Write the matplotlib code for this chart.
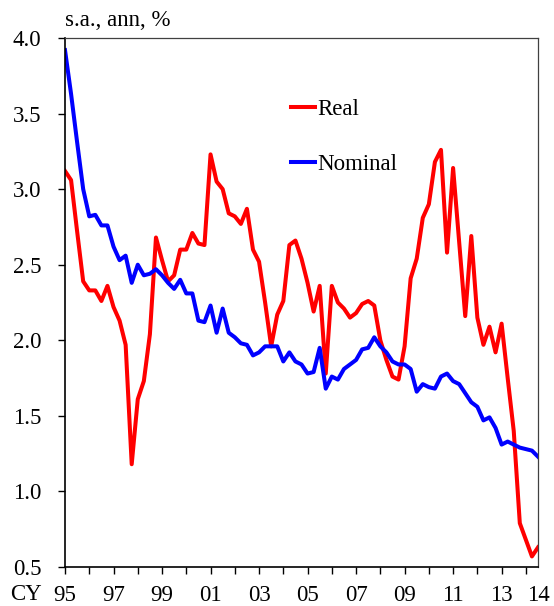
import numpy as np
import matplotlib
matplotlib.use("Agg")
import matplotlib.pyplot as plt

plt.rcParams['font.family'] = ['Liberation Serif', 'DejaVu Serif']

# quarterly, 1995Q1 .. 2014Q3
real = [3.12, 3.06, 2.72, 2.39, 2.33, 2.33, 2.26, 2.36, 2.22, 2.13,
        1.97, 1.18, 1.61, 1.73, 2.04, 2.68, 2.53, 2.39, 2.43, 2.60,
        2.60, 2.71, 2.64, 2.63, 3.23, 3.05, 3.00, 2.84, 2.82, 2.77,
        2.87, 2.60, 2.52, 2.25, 1.96, 2.17, 2.26, 2.63, 2.66, 2.54,
        2.38, 2.19, 2.36, 1.78, 2.36, 2.25, 2.21, 2.15, 2.18, 2.24,
        2.26, 2.23, 2.00, 1.87, 1.76, 1.74, 1.96, 2.41, 2.54, 2.81,
        2.90, 3.18, 3.26, 2.58, 3.14, 2.65, 2.16, 2.69, 2.15, 1.97,
        2.09, 1.92, 2.11, 1.75, 1.40, 0.79, 0.68, 0.57, 0.63]
nominal = [3.92, 3.63, 3.31, 3.00, 2.82, 2.83, 2.76, 2.76, 2.62, 2.53,
           2.56, 2.38, 2.50, 2.43, 2.44, 2.47, 2.43, 2.38, 2.34, 2.40,
           2.31, 2.31, 2.13, 2.12, 2.23, 2.05, 2.21, 2.05, 2.02, 1.98,
           1.97, 1.90, 1.92, 1.96, 1.96, 1.96, 1.86, 1.92, 1.86, 1.84,
           1.78, 1.79, 1.95, 1.68, 1.76, 1.74, 1.81, 1.84, 1.87, 1.94,
           1.95, 2.02, 1.96, 1.92, 1.86, 1.84, 1.84, 1.81, 1.66, 1.71,
           1.69, 1.68, 1.76, 1.78, 1.73, 1.71, 1.65, 1.59, 1.56, 1.47,
           1.49, 1.42, 1.31, 1.33, 1.31, 1.29, 1.28, 1.27, 1.23]
year_labels = ['95', '', '97', '', '99', '', '01', '', '03', '', '05', '',
               '07', '', '09', '', '11', '', '13', '']
last_label = '14'

q = np.arange(len(real))
fs = 16.5

fig = plt.figure(figsize=(5.54, 6.06), dpi=100)
ax = fig.add_axes([65/554, 1-567/606, 473/554, 529/606])

ax.plot(q, real, color='#ff0000', lw=2.9, label='Real')
ax.plot(q, nominal, color='#0000ff', lw=2.9, label='Nominal')

ax.set_xlim(0, len(real) - 1)
ax.set_ylim(0.5, 4.0)
ax.set_yticks(np.arange(0.5, 4.01, 0.5))
ax.set_yticklabels(['%.1f' % v for v in np.arange(0.5, 4.01, 0.5)])
ax.set_xticks(np.arange(0, 4 * len(year_labels), 4))
ax.set_xticklabels(year_labels)
ax.set_xticks([len(real) - 1], minor=True)
ax.set_xticklabels([last_label], minor=True)

ax.tick_params(axis='both', which='major', labelsize=fs, length=5,
               width=1, direction='out', color='black')
ax.tick_params(axis='y', pad=12)
ax.tick_params(axis='x', which='major', pad=8)
ax.tick_params(axis='x', which='minor', length=0, pad=13, labelsize=fs)

for s in ['left', 'bottom']:
    ax.spines[s].set_color('black')
    ax.spines[s].set_linewidth(1.2)
for s in ['top', 'right']:
    ax.spines[s].set_color('#404040')
    ax.spines[s].set_linewidth(0.9)

ax.annotate('CY', xy=(0, 0), xycoords='axes fraction', xytext=(-17, -20),
            textcoords='offset points', ha='right', va='center', fontsize=fs)
ax.annotate('s.a., ann, %', xy=(0, 1), xycoords='axes fraction',
            xytext=(0, 5), textcoords='offset points', ha='left',
            va='bottom', fontsize=fs)

ax.legend(loc='upper left', bbox_to_anchor=(291/554, 1-99/606),
          bbox_transform=fig.transFigure, frameon=False, fontsize=fs,
          handlelength=1.05, handletextpad=0.1, labelspacing=1.5,
          borderpad=0, borderaxespad=0)

fig.savefig('out.png', dpi=100)
